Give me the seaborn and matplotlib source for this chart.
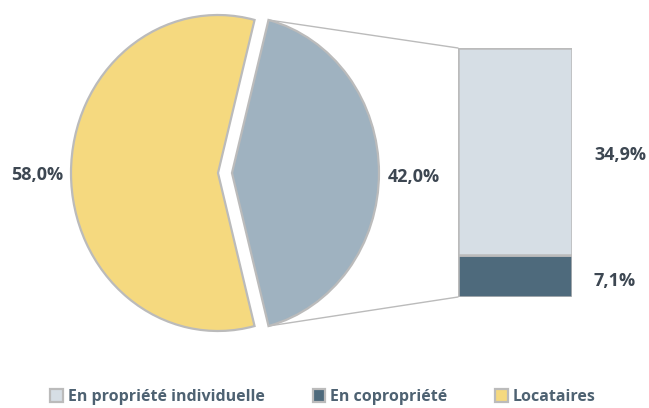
import numpy as np
import matplotlib
matplotlib.use("Agg")
import matplotlib.pyplot as plt
from matplotlib.patches import Patch, ConnectionPatch
import seaborn as sns

sns.set_style("white")
plt.rcParams['font.family'] = ['Open Sans', 'DejaVu Sans']

# data
pie_labels = ['Propriétaires', 'Locataires']
pie_values = [42.0, 58.0]
bar_labels = ['En copropriété', 'En propriété individuelle']
bar_values = [7.1, 34.9]
legend_labels = ['En propriété individuelle', 'En copropriété', 'Locataires']

c_yellow = '#F5D97F'
c_grayblue = '#9FB2C0'
c_light = '#D6DEE5'
c_dark = '#4E6A7C'
c_edge = '#BBBBBB'
c_text = '#3D4752'
c_legend = '#4E6272'

W, H = 649, 408
fig = plt.figure(figsize=(W / 100, H / 100), dpi=100)

def fmt(v):
    return f"{v:.1f}".replace('.', ',') + '%'

# pie axes (pixel box 60..400 x 5..345), center of pie at (218,173), radii 147 x 158 px
cx, cy, rx, ry = 218, 173, 147, 158
px0, px1, py0, py1 = 60, 400, 5, 345
ax_pie = fig.add_axes([px0 / W, 1 - py1 / H, (px1 - px0) / W, (py1 - py0) / H])

start = -pie_values[0] / 100 * 360 / 2
explode = [0.095, 0.0]
wedges, _ = ax_pie.pie(pie_values, colors=[c_grayblue, c_yellow], startangle=start,
                       counterclock=True, explode=explode, radius=1,
                       wedgeprops=dict(edgecolor=c_edge, linewidth=1.6))
ax_pie.set_aspect('auto')
ax_pie.set_xlim((px0 - cx) / rx, (px1 - cx) / rx)
ax_pie.set_ylim((cy - py1) / ry, (cy - py0) / ry)
ax_pie.axis('off')

# bar axes (pixel box 458..572 x 48..297)
bx0, bx1, by0, by1 = 458, 572, 48, 297
ax_bar = fig.add_axes([bx0 / W, 1 - by1 / H, (bx1 - bx0) / W, (by1 - by0) / H])
total = sum(bar_values)
ax_bar.bar(0, bar_values[0], width=1, bottom=0, color=c_dark, edgecolor=c_edge, linewidth=1.8)
ax_bar.bar(0, bar_values[1], width=1, bottom=bar_values[0], color=c_light, edgecolor=c_edge, linewidth=1.8)
ax_bar.set_xlim(-0.5, 0.5)
ax_bar.set_ylim(0, total)
ax_bar.axis('off')

# connector lines
theta = np.deg2rad(pie_values[0] / 100 * 360 / 2)
for sgn, ybar in [(1, total), (-1, 0)]:
    p = (explode[0] + np.cos(theta), sgn * np.sin(theta))
    con = ConnectionPatch(xyA=p, coordsA=ax_pie.transData, xyB=(-0.5, ybar),
                          coordsB=ax_bar.transData, color=c_edge, linewidth=1.0)
    fig.add_artist(con)

# value labels
lab_kw = dict(fontsize=13, fontweight='bold', color=c_text, va='center')
fig.text(37 / W, 1 - 175 / H, fmt(pie_values[1]), ha='center', **lab_kw)
fig.text(414 / W, 1 - 177 / H, fmt(pie_values[0]), ha='center', **lab_kw)
fig.text(594 / W, 1 - 155 / H, fmt(bar_values[1]), ha='left', **lab_kw)
fig.text(594 / W, 1 - 281 / H, fmt(bar_values[0]), ha='left', **lab_kw)

# legend
handles = [Patch(facecolor=c_light, edgecolor=c_edge, linewidth=1.6),
           Patch(facecolor=c_dark, edgecolor=c_edge, linewidth=1.6),
           Patch(facecolor=c_yellow, edgecolor=c_edge, linewidth=1.6)]
leg = fig.legend(handles, legend_labels, loc='center', bbox_to_anchor=(323 / W, 1 - 397 / H),
                 ncol=3, frameon=False, handlelength=0.8, handleheight=0.8,
                 handletextpad=0.3, columnspacing=3.0,
                 prop=dict(family='Open Sans', weight='bold', size=11.5))
for t in leg.get_texts():
    t.set_color(c_legend)

fig.savefig('out.png', dpi=100, facecolor='white')
